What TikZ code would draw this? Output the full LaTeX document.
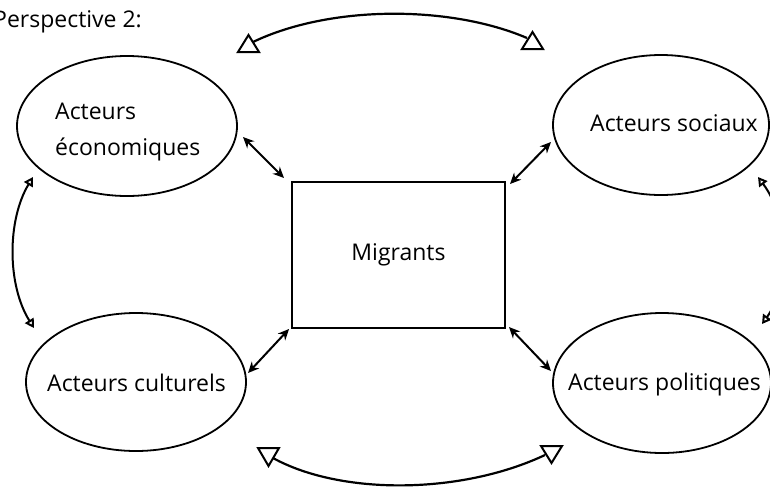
\documentclass[tikz,border=0pt]{standalone}
\usepackage{fontspec}
\setmainfont[Ligatures=NoCommon]{Open Sans}
\usetikzlibrary{arrows.meta}
\begin{document}
\begin{tikzpicture}[x=1pt,y=-1pt,
  lbl/.style={font=\fontsize{23}{28}\selectfont,inner sep=0pt},
  link/.style={line width=2pt,{Stealth[length=11pt,width=10pt]}-{Stealth[length=11pt,width=10pt]}},
  tri/.style={line width=2pt,line join=miter},
  curvearr/.style={line width=2.2pt},
  opentip/.style={line width=2pt,{Triangle[open,length=9pt,width=10pt]}-{Triangle[open,length=9pt,width=10pt]}}]
\useasboundingbox (0,0) rectangle (770,488);
% ellipses
\draw[line width=1.8pt] (127,126) ellipse [x radius=110, y radius=70];
\draw[line width=1.8pt] (136,382) ellipse [x radius=110, y radius=69];
\draw[line width=1.8pt] (661,125) ellipse [x radius=108, y radius=70];
\draw[line width=1.8pt] (662,383) ellipse [x radius=109, y radius=70];
% texts
\node[lbl,anchor=base west] (t1) at (55,119) {Acteurs};
\node[lbl,anchor=base west] (t2) at (55,155) {économiques};
\node[lbl,anchor=base west] (t3) at (590,131) {Acteurs sociaux};
\node[lbl,anchor=base west] (t4) at (47,391) {Acteurs culturels};
\node[lbl,anchor=base west] (t5) at (568,390) {Acteurs politiques};
\node[lbl,anchor=base west] (t0) at (-7,27) {Perspective 2:};
% rectangle
\node[draw,line width=2pt,minimum width=213pt,minimum height=146pt,inner sep=0pt,lbl] (mig) at (398.5,255) {Migrants};
% links
\coordinate (a1) at (243,137); \coordinate (b1) at (284,178);
\coordinate (a2) at (551,142); \coordinate (b2) at (510,184);
\coordinate (a3) at (248,373); \coordinate (b3) at (289,329);
\coordinate (a4) at (509,327); \coordinate (b4) at (551,371);
\draw[link] (a1) -- (b1);
\draw[link] (a2) -- (b2);
\draw[link] (a3) -- (b3);
\draw[link] (a4) -- (b4);
% top curve with triangles
\coordinate (tl) at (253,42); \coordinate (tr) at (527,38);
\draw[curvearr] (tl) .. controls (330,5) and (450,5) .. (tr);
\draw[tri,fill=white] (238,52) -- (259,52) -- (248.5,35) -- cycle;
\draw[tri,fill=white] (522,49) -- (543,49) -- (532.5,32) -- cycle;
% bottom curve with triangles
\coordinate (bl) at (273,458); \coordinate (br) at (545,455);
\draw[curvearr] (bl) .. controls (340,495) and (460,495) .. (br);
\draw[tri,fill=white] (258,448) -- (279,448) -- (268.5,466) -- cycle;
\draw[tri,fill=white] (541,446) -- (562,446) -- (551.5,463) -- cycle;
% side curves
\coordinate (lt) at (33,177); \coordinate (lb) at (34,328);
\draw[opentip] (lt) .. controls (7,220) and (7,285) .. (lb);
\coordinate (rt) at (758,177); \coordinate (rb) at (762,324);
\draw[opentip] (rt) .. controls (790,220) and (790,285) .. (rb);
\end{tikzpicture}
\end{document}
